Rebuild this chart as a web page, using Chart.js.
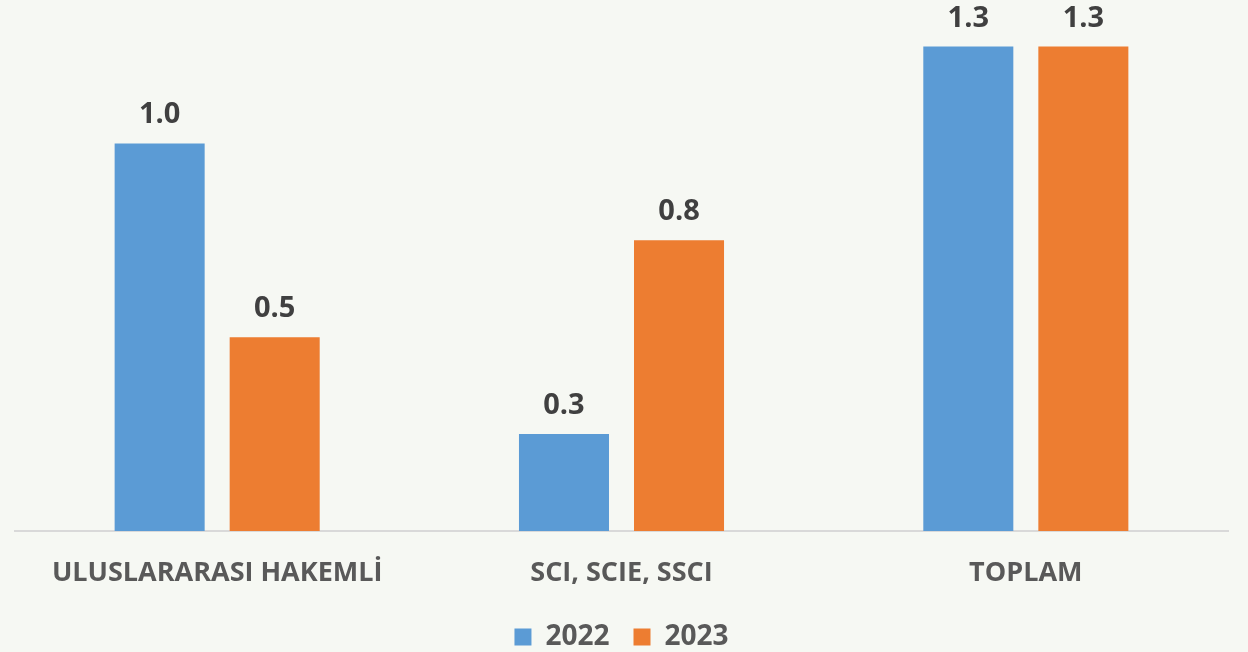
<!DOCTYPE html>
<html lang="tr">
<head>
    <meta charset="UTF-8">
    <title>Yayın Sayıları</title>
    <script src="https://cdn.jsdelivr.net/npm/chart.js"></script>
    <style>
        html, body {
            margin: 0;
            padding: 0;
            background-color: #f6f8f3;
        }
        .chart-container {
            width: 1248px;
            height: 652px;
        }
    </style>
</head>
<body>
    <div class="chart-container">
        <canvas id="myChart"></canvas>
    </div>

    <script>
        // categories and values
        const categories = ['ULUSLARARASI HAKEMLİ', 'SCI, SCIE, SSCI', 'TOPLAM'];
        const years = ['2022', '2023'];
        const values2022 = [1.0, 0.25, 1.25];
        const values2023 = [0.5, 0.75, 1.25];

        const fontFamily = "'Open Sans', sans-serif";

        // draws the number above each bar
        const valueLabels = {
            id: 'valueLabels',
            afterDatasetsDraw(chart) {
                const ctx = chart.ctx;
                ctx.save();
                ctx.font = 'bold 29px ' + fontFamily;
                ctx.fillStyle = '#404040';
                ctx.textAlign = 'center';
                ctx.textBaseline = 'alphabetic';
                chart.data.datasets.forEach((ds, i) => {
                    chart.getDatasetMeta(i).data.forEach((bar, j) => {
                        ctx.fillText(ds.data[j].toFixed(1), bar.x, bar.y - 20);
                    });
                });
                ctx.restore();
            }
        };

        const myChart = new Chart(document.getElementById('myChart'), {
            type: 'bar',
            data: {
                labels: categories,
                datasets: [
                    {
                        label: years[0],
                        data: values2022,
                        backgroundColor: '#5b9bd5',
                        categoryPercentage: 0.569,
                        barPercentage: 0.7826
                    },
                    {
                        label: years[1],
                        data: values2023,
                        backgroundColor: '#ed7d31',
                        categoryPercentage: 0.569,
                        barPercentage: 0.7826
                    }
                ]
            },
            options: {
                responsive: true,
                maintainAspectRatio: false,
                animation: false,
                layout: {
                    padding: { left: 15, right: 20, top: 0, bottom: -9 }
                },
                scales: {
                    x: {
                        grid: { display: false },
                        border: { display: true, color: '#d9d9d9', width: 2 },
                        ticks: {
                            color: '#595959',
                            padding: 18,
                            font: { family: fontFamily, size: 27, weight: 'bold' }
                        },
                        afterFit(scale) {
                            scale.height = 68;
                        }
                    },
                    y: {
                        display: false,
                        min: 0,
                        max: 1.37
                    }
                },
                plugins: {
                    legend: {
                        position: 'bottom',
                        labels: {
                            color: '#595959',
                            boxWidth: 17,
                            boxHeight: 17,
                            padding: 24,
                            font: { family: fontFamily, size: 28, weight: 'bold' }
                        }
                    },
                    tooltip: { enabled: false }
                }
            },
            plugins: [valueLabels]
        });
    </script>
</body>
</html>
